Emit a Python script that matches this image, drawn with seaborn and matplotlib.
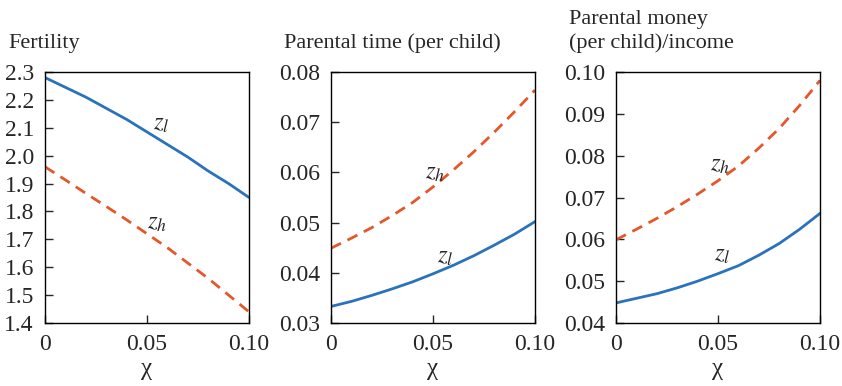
import numpy as np
import pandas as pd
import matplotlib
matplotlib.use("Agg")
import matplotlib.pyplot as plt
import seaborn as sns

# Values
chi = [0.0, 0.01, 0.02, 0.03, 0.04, 0.05, 0.06, 0.07, 0.08, 0.09, 0.10]

fertility_zl = [2.28, 2.245, 2.21, 2.17, 2.13, 2.085, 2.04, 1.995, 1.945, 1.90, 1.85]
fertility_zh = [1.96, 1.913, 1.865, 1.818, 1.77, 1.72, 1.67, 1.615, 1.56, 1.50, 1.44]

time_zl = [0.0333, 0.0343, 0.0355, 0.0368, 0.0382, 0.0398, 0.0415, 0.0434, 0.0455, 0.0477, 0.0502]
time_zh = [0.0449, 0.0469, 0.0490, 0.0514, 0.0540, 0.0571, 0.0605, 0.0641, 0.0680, 0.0721, 0.0764]

money_zl = [0.0448, 0.0459, 0.0470, 0.0484, 0.0500, 0.0518, 0.0537, 0.0562, 0.0590, 0.0624, 0.0662]
money_zh = [0.0599, 0.0624, 0.0650, 0.0678, 0.0708, 0.0740, 0.0775, 0.0818, 0.0865, 0.0920, 0.0980]

panel_titles = ["Fertility", "Parental time (per child)", "Parental money\n(per child)/income"]
y_limits = [(1.4, 2.3), (0.03, 0.08), (0.04, 0.10)]
y_ticks = [np.round(np.arange(1.4, 2.31, 0.1), 2),
           np.round(np.arange(0.03, 0.081, 0.01), 2),
           np.round(np.arange(0.04, 0.101, 0.01), 2)]
y_fmt = ["{:.1f}", "{:.2f}", "{:.2f}"]
x_ticks = [0.0, 0.05, 0.10]
x_ticklabels = ["0", "0.05", "0.10"]

# label positions (data coords) for z_l / z_h
label_pos = [
    {"l": (0.053, 2.115), "h": (0.050, 1.76)},
    {"l": (0.052, 0.0432), "h": (0.046, 0.0598)},
    {"l": (0.048, 0.0563), "h": (0.046, 0.0777)},
]

BLUE = "#2a72b9"
ORANGE = "#e4572a"

sns.set_style("ticks")
plt.rcParams["font.family"] = ["Liberation Serif", "DejaVu Serif"]
plt.rcParams["mathtext.fontset"] = "stix"

def make_df(zl, zh):
    return pd.DataFrame({
        "chi": chi + chi,
        "value": list(zl) + list(zh),
        "group": ["zl"] * len(chi) + ["zh"] * len(chi),
    })

frames = [make_df(fertility_zl, fertility_zh),
          make_df(time_zl, time_zh),
          make_df(money_zl, money_zh)]

fig = plt.figure(figsize=(8.42, 3.86), dpi=100)
lefts = [45 / 842, 331 / 842, 616 / 842]
width = 204 / 842
bottom = (386 - 323) / 386
height = (323 - 72) / 386

for i, df in enumerate(frames):
    ax = fig.add_axes([lefts[i], bottom, width, height])
    sns.lineplot(data=df[df.group == "zl"], x="chi", y="value", ax=ax,
                 color=BLUE, linewidth=2.0)
    sns.lineplot(data=df[df.group == "zh"], x="chi", y="value", ax=ax,
                 color=ORANGE, linewidth=2.0, dashes=False,
                 linestyle=(0, (4, 2.6)))
    ax.set_xlim(0, 0.10)
    ax.set_ylim(*y_limits[i])
    ax.set_xticks(x_ticks)
    ax.set_xticklabels(x_ticklabels)
    ax.set_yticks(y_ticks[i])
    ax.set_yticklabels([y_fmt[i].format(v) for v in y_ticks[i]])
    ax.tick_params(direction="in", length=6, width=1, labelsize=17, pad=8,
                   top=False, right=False)
    for sp in ax.spines.values():
        sp.set_visible(True)
        sp.set_linewidth(1.0)
        sp.set_color("black")
    ax.set_xlabel("χ", fontsize=18, labelpad=2)
    ax.set_ylabel("")
    ax.text(-0.18 if i == 0 else -0.23, 1.075, panel_titles[i], transform=ax.transAxes,
            ha="left", va="bottom", fontsize=16, linespacing=1.3)
    lx, ly = label_pos[i]["l"]
    hx, hy = label_pos[i]["h"]
    ax.text(lx, ly, r"$z_l$", fontsize=18, ha="left", va="center")
    ax.text(hx, hy, r"$z_h$", fontsize=18, ha="left", va="center")

fig.savefig("out.png", dpi=100)
